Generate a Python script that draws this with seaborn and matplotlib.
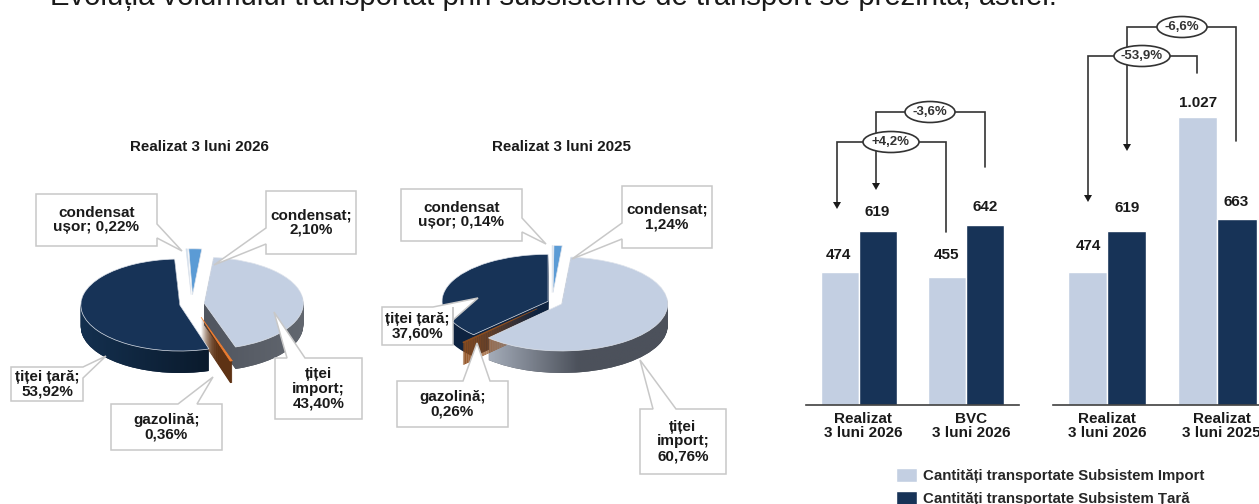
import matplotlib
matplotlib.use('Agg')
import matplotlib.pyplot as plt
from matplotlib.path import Path
from matplotlib.patches import Ellipse, PathPatch, Polygon
import numpy as np
import pandas as pd
import seaborn as sns

W, H = 1259, 504

# pie data
slice_names = ['condensat ușor', 'condensat', 'țiței import', 'gazolină', 'țiței țară']
pie_2026 = [0.22, 2.10, 43.40, 0.36, 53.92]
pie_2025 = [0.14, 1.24, 60.76, 0.26, 37.60]

# bar data
group_left = ['Realizat\n3 luni 2026', 'BVC\n3 luni 2026']
group_right = ['Realizat\n3 luni 2026', 'Realizat\n3 luni 2025']
import_left = [474, 455]
tara_left = [619, 642]
import_right = [474, 1027]
tara_right = [619, 663]
series_names = ['Cantități transportate Subsistem Import', 'Cantități transportate Subsistem Țară']

LIGHT = '#c3cfe2'
DARK = '#173357'
PX_PER_UNIT = 0.2808
BASE_Y = 405
BROWN = 3

sns.set_style('white')
plt.rcParams['font.family'] = ['Liberation Sans', 'DejaVu Sans']

fig = plt.figure(figsize=(W / 100, H / 100), dpi=100)


def px_axes(x0, y0, x1, y1, **kw):
    return fig.add_axes([x0 / W, 1 - y1 / H, (x1 - x0) / W, (y1 - y0) / H], **kw)


def side_gradient(ax, paths, cols, top, bottom):
    # horizontal shading on the rim of one slice
    clip = PathPatch(Path.make_compound_path(*paths), transform=ax.transData, fc='none', ec='none')
    ax.add_patch(clip)
    cmap = matplotlib.colors.LinearSegmentedColormap.from_list('rim', cols)
    x0 = min(p.vertices[:, 0].min() for p in paths)
    x1 = max(p.vertices[:, 0].max() for p in paths)
    im = ax.imshow(np.linspace(0, 1, 128)[None, :], cmap=cmap, extent=(x0, x1, bottom, top),
                   aspect='auto', zorder=1.5)
    im.set_clip_path(clip)


def draw_pie(box, cx, cy, a, b, values, start, explode, tops, sides, gradients):
    ax = px_axes(*box, facecolor='none')
    depth = 22
    rim_paths = {}
    for k in range(depth, 0, -1):
        w = ax.pie(values, explode=explode, colors=sides, startangle=start, counterclock=False,
                   center=(0, -k / b), wedgeprops={'lw': 0.6, 'ec': 'none'})[0]
        w[BROWN].set_zorder(1.8)
        for i, wedge in enumerate(w):
            rim_paths.setdefault(i, []).append(wedge.get_path())
    top = ax.pie(values, explode=explode, colors=tops, startangle=start, counterclock=False,
                 wedgeprops={'lw': 0.5, 'ec': '#dfe4ec', 'zorder': 2})[0]
    top[BROWN].set_edgecolor(tops[BROWN])
    for i, cols in gradients.items():
        side_gradient(ax, rim_paths[i], cols, 0.6, -1.9)
    ax.set_aspect('auto')
    ax.set_xlim((box[0] - cx) / a, (box[2] - cx) / a)
    ax.set_ylim((cy - box[3]) / b, (cy - box[1]) / b)
    ax.axis('off')
    return ax


draw_pie((0, 190, 380, 420), 192, 304, 99, 46, pie_2026, 93,
         [0.2, 0.2, 0.125, 0.3, 0.125],
         ['#bdd7ee', '#5b9bd5', LIGHT, '#ed7d31', DARK],
         ['none', 'none', '#50555f', '#5e3214', '#10253f'],
         {4: ['#14304f', '#0a1a2c'], 2: ['#50555f', '#62676f']})
draw_pie((380, 190, 740, 420), 552, 302, 106, 47, pie_2025, 90,
         [0.2, 0.2, 0.1, 0.2, 0.04],
         ['#bdd7ee', '#5b9bd5', LIGHT, '#8f4e1e', DARK],
         ['none', 'none', '#50555f', '#8f4e1e', '#0e2340'],
         {2: ['#a4acb9', '#4c515b', '#4c515b']})

# bars
for box, names, s1, s2, xlim, ticks in [
    ((806, 0, 1019, BASE_Y), group_left, import_left, tara_left, (-0.495, 1.495), [0.04, 1.05]),
    ((1053, 0, 1259, BASE_Y), group_right, import_right, tara_right, (-0.49, 1.38), [0.0, 1.04]),
]:
    ax = px_axes(*box, facecolor='none')
    df = pd.DataFrame({'grupa': names * 2,
                       'serie': [series_names[0]] * 2 + [series_names[1]] * 2,
                       'valoare': s1 + s2})
    sns.barplot(data=df, x='grupa', y='valoare', hue='serie', palette=[LIGHT, DARK],
                width=0.715, gap=0, saturation=1, ax=ax, legend=box[0] == 806)
    ax.set_xlim(*xlim)
    ax.set_ylim(0, BASE_Y / PX_PER_UNIT)
    ax.set_xlabel('')
    ax.set_ylabel('')
    ax.set_yticks([])
    ax.set_xticks(ticks, names, fontsize=11, fontweight='bold', linespacing=1.0, color='#1a1a1a')
    ax.tick_params(axis='x', length=0, pad=5)
    sns.despine(ax=ax, left=True)
    ax.spines['bottom'].set_color('#404040')
    ax.spines['bottom'].set_linewidth(1.2)
    if box[0] == 806:
        left_ax = ax

handles, labels = left_ax.get_legend_handles_labels()
left_ax.get_legend().remove()
fig.legend(handles, labels, loc='upper left', bbox_to_anchor=(896 / W, 1 - 467.5 / H), frameon=False,
           prop={'size': 10.8, 'weight': 'bold'}, handlelength=1.4, handleheight=1.15, handletextpad=0.4,
           labelspacing=0.5, borderpad=0, borderaxespad=0, labelcolor='#262626')

# everything drawn on top, in pixel coordinates
over = px_axes(0, 0, W, H, facecolor='none')
over.set_xlim(0, W)
over.set_ylim(H, 0)
over.axis('off')


def box_label(x0, y0, x1, y1, tail, side, text):
    # tail: (start, tip, end) points lying on the given side of the box
    if side == 'right':
        v = [(x0, y0), (x1, y0), *tail, (x1, y1), (x0, y1)]
    elif side == 'left':
        v = [(x0, y0), (x1, y0), (x1, y1), (x0, y1), *tail[::-1]]
    else:
        v = [(x0, y0), *tail, (x1, y0), (x1, y1), (x0, y1)]
    over.add_patch(Polygon(v, closed=True, fc='white', ec='#c8c8c8', lw=1.1, zorder=5))
    over.text((x0 + x1) / 2, (y0 + y1) / 2, text, ha='center', va='center', fontsize=11,
              fontweight='bold', color='#1a1a1a', linespacing=1.05, zorder=6)


box_label(36, 194, 157, 246, [(157, 224), (182, 251), (157, 238)], 'right', 'condensat\nușor; 0,22%')
box_label(266, 191, 356, 254, [(266, 228), (214, 265), (266, 244)], 'left', 'condensat;\n2,10%')
box_label(275, 358, 362, 419, [(287, 358), (274, 312), (305, 358)], 'top', 'țiței\nimport;\n43,40%')
box_label(111, 404, 222, 450, [(178, 404), (213, 377), (197, 404)], 'top', 'gazolină;\n0,36%')
box_label(11, 367, 83, 401, [(83, 367), (106, 356), (83, 378)], 'right', 'țiței țară;\n53,92%')

box_label(401, 189, 522, 241, [(522, 218), (546, 244), (522, 232)], 'right', 'condensat\nușor; 0,14%')
box_label(622, 186, 712, 248, [(622, 223), (572, 259), (622, 239)], 'left', 'condensat;\n1,24%')
box_label(640, 409, 726, 474, [(653, 409), (640, 360), (676, 409)], 'top', 'țiței\nimport;\n60,76%')
box_label(397, 381, 508, 427, [(463, 381), (477, 343), (490, 381)], 'top', 'gazolină;\n0,26%')
box_label(382, 307, 453, 345, [(433, 307), (478, 298), (453, 320)], 'top', 'țiței țară;\n37,60%')

over.text(199, 147, 'Realizat 3 luni 2026', ha='center', va='center', fontsize=10.9, fontweight='bold', color='#1a1a1a')
over.text(562, 147, 'Realizat 3 luni 2025', ha='center', va='center', fontsize=10.9, fontweight='bold', color='#1a1a1a')
over.text(50, 5, 'Evoluția volumului transportat prin subsisteme de transport se prezintă, astfel:',
          ha='left', va='baseline', fontsize=21.1, color='#1a1a1a')

# value labels, placed by hand relative to the pictured bar tops
for x, y, t in [(838, 255, '474'), (877, 212, '619'), (947, 255, '455'), (985, 207, '642'),
                (1088, 246, '474'), (1127, 208, '619'), (1198, 103, '1.027'), (1236, 202, '663')]:
    over.text(x, y, t, ha='center', va='center', fontsize=11, fontweight='bold', color='#1a1a1a')


def bracket(label, cx, cy, w, xl, tip, xr, end):
    line = dict(color='#333333', lw=1.2, zorder=3, solid_joinstyle='miter')
    over.plot([xl, xl, xr, xr], [tip - 6, cy, cy, end], **line)
    over.add_patch(Polygon([(xl - 4, tip - 7), (xl + 4, tip - 7), (xl, tip)], closed=True, fc='#1a1a1a', ec='none', zorder=3))
    over.add_patch(Ellipse((cx, cy), w, 21, fc='white', ec='#333333', lw=1.2, zorder=4))
    over.text(cx, cy, label, ha='center', va='center', fontsize=9.5, fontweight='bold', color='#333333', zorder=5)


bracket('-3,6%', 930, 112, 50, 876, 190, 985, 167)
bracket('+4,2%', 891, 142, 56, 837, 209, 946, 232)
bracket('-6,6%', 1182, 27, 50, 1127, 151, 1236, 141)
bracket('-53,9%', 1142, 56, 56, 1088, 202, 1197, 73)

fig.savefig('out.png', dpi=100)
